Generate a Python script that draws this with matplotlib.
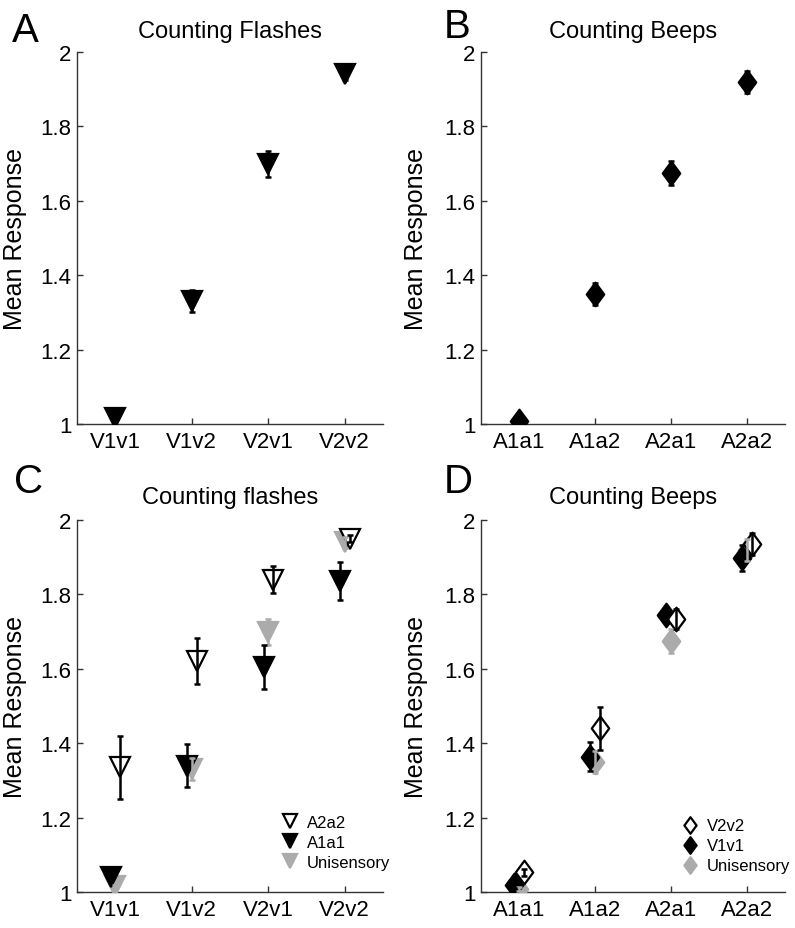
import numpy as np
import matplotlib
matplotlib.use("Agg")
import matplotlib.pyplot as plt
from matplotlib.path import Path

plt.rcParams['font.family'] = ['Liberation Sans', 'DejaVu Sans']

# panel A: counting flashes, unisensory
flash_labels = ['V1v1', 'V1v2', 'V2v1', 'V2v2']
flash_uni = [1.015, 1.33, 1.70, 1.94]
flash_uni_err = [0.005, 0.03, 0.035, 0.015]

# panel B: counting beeps, unisensory
beep_labels = ['A1a1', 'A1a2', 'A2a1', 'A2a2']
beep_uni = [1.008, 1.35, 1.675, 1.92]
beep_uni_err = [0.005, 0.03, 0.033, 0.03]

# panel C: counting flashes with sounds
flash_a2a2 = [1.335, 1.62, 1.84, 1.95]
flash_a2a2_err = [0.085, 0.062, 0.037, 0.01]
flash_a1a1 = [1.041, 1.34, 1.605, 1.836]
flash_a1a1_err = [0.008, 0.058, 0.058, 0.05]

# panel D: counting beeps with flashes
beep_v2v2 = [1.053, 1.44, 1.734, 1.935]
beep_v2v2_err = [0.01, 0.058, 0.027, 0.03]
beep_v1v1 = [1.02, 1.364, 1.745, 1.897]
beep_v1v1_err = [0.008, 0.04, 0.012, 0.035]

gray = '#ababab'
axcol = '#333333'
x = np.arange(1, 5)

tri = 'v'
dia = Path([(0, 1), (0.74, 0), (0, -1), (-0.74, 0), (0, 1)],
           [Path.MOVETO, Path.LINETO, Path.LINETO, Path.LINETO, Path.CLOSEPOLY])


def style(ax, labels, lab_x):
    ax.set_xlim(0.5, 4.5)
    ax.set_ylim(1, 2)
    ax.set_xticks(x)
    ax.set_xticklabels(labels)
    ax.set_yticks([1, 1.2, 1.4, 1.6, 1.8, 2])
    ax.set_yticklabels(['1', '1.2', '1.4', '1.6', '1.8', '2'])
    for s in ['top', 'right']:
        ax.spines[s].set_visible(False)
    for s in ['left', 'bottom']:
        ax.spines[s].set_color(axcol)
        ax.spines[s].set_linewidth(1.0)
    ax.tick_params(direction='in', length=4, width=1, colors=axcol,
                   labelcolor='black', labelsize=16)
    ax.tick_params(axis='x', pad=5)
    ax.tick_params(axis='y', pad=4)
    ax.set_ylabel('Mean Response', fontsize=18)
    ax.yaxis.set_label_coords(lab_x, 0.5)


def series(ax, xs, ys, err, marker, ms, face, edge, ecol, label=None):
    ax.errorbar(xs, ys, yerr=err, fmt='none', ecolor=ecol, elinewidth=1.8,
                capsize=2.5, capthick=1.8, zorder=4)
    ax.plot(xs, ys, linestyle='none', marker=marker, ms=ms,
            markerfacecolor=face, markeredgecolor=edge, markeredgewidth=1.6,
            label=label, zorder=3)


fig = plt.figure(figsize=(7.95, 9.29), dpi=100)
W, H = 795.0, 929.0
axA = fig.add_axes([77 / W, 1 - 425 / H, 306 / W, 372 / H])
axB = fig.add_axes([481 / W, 1 - 425 / H, 304 / W, 372 / H])
axC = fig.add_axes([77 / W, 1 - 893 / H, 306 / W, 372 / H])
axD = fig.add_axes([481 / W, 1 - 893 / H, 304 / W, 372 / H])

# A
series(axA, x, flash_uni, flash_uni_err, tri, 14, 'black', 'black', 'black')
style(axA, flash_labels, -0.165)
axA.set_title('Counting Flashes', fontsize=17, pad=11)

# B
series(axB, x, beep_uni, beep_uni_err, dia, 17, 'black', 'black', 'black')
style(axB, beep_labels, -0.175)
axB.set_title('Counting Beeps', fontsize=17, pad=11)

# C
series(axC, x, flash_uni, flash_uni_err, tri, 14, gray, gray, gray, 'Unisensory')
series(axC, x - 0.06, flash_a1a1, flash_a1a1_err, tri, 14, 'black', 'black', 'black', 'A1a1')
series(axC, x + 0.065, flash_a2a2, flash_a2a2_err, tri, 14, 'white', 'black', 'black', 'A2a2')
style(axC, flash_labels, -0.165)
axC.set_title('Counting flashes', fontsize=17, pad=12)
h, l = axC.get_legend_handles_labels()
axC.legend(h[::-1], l[::-1], loc='center left', bbox_to_anchor=(0.67, 0.134),
           frameon=False, fontsize=12, handlelength=1.0, handletextpad=0.5,
           labelspacing=0.3, borderpad=0, borderaxespad=0, markerscale=0.7)

# D
series(axD, x, beep_uni, beep_uni_err, dia, 17, gray, gray, gray, 'Unisensory')
series(axD, x - 0.065, beep_v1v1, beep_v1v1_err, dia, 17, 'black', 'black', 'black', 'V1v1')
series(axD, x + 0.065, beep_v2v2, beep_v2v2_err, dia, 17, 'white', 'black', 'black', 'V2v2')
style(axD, beep_labels, -0.175)
axD.set_title('Counting Beeps', fontsize=17, pad=12)
h, l = axD.get_legend_handles_labels()
axD.legend(h[::-1], l[::-1], loc='center left', bbox_to_anchor=(0.661, 0.124),
           frameon=False, fontsize=12, handlelength=1.0, handletextpad=0.5,
           labelspacing=0.3, borderpad=0, borderaxespad=0, markerscale=0.7)

# panel letters
for txt, px, py in [('A', 12, 42), ('B', 444, 38), ('C', 14, 493), ('D', 444, 493)]:
    fig.text(px / W, 1 - py / H, txt, fontsize=29, va='baseline', ha='left')

fig.savefig('out.png', dpi=100)
